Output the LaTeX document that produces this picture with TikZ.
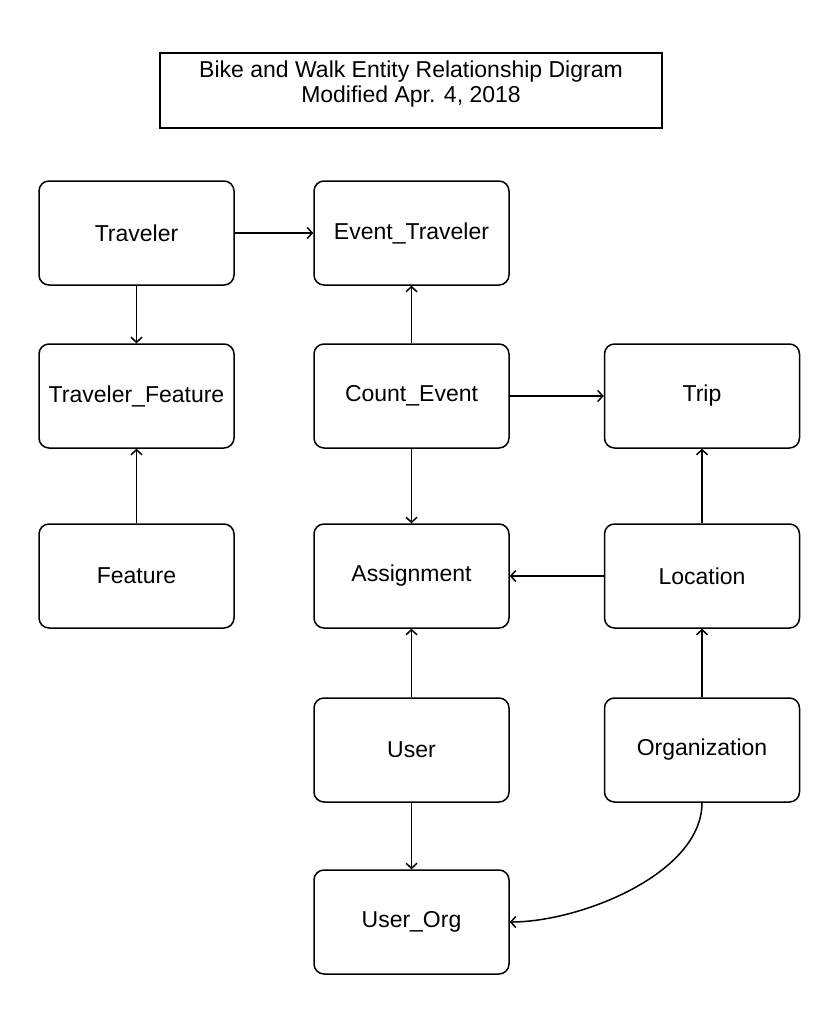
\documentclass[tikz,border=0pt]{standalone}
\usepackage{fontspec}
\setmainfont{Liberation Sans}
\usetikzlibrary{arrows.meta}
\begin{document}
\begin{tikzpicture}[x=1pt,y=-1pt,
  entity/.style={draw, line width=1.5pt, rounded corners=10pt, minimum width=195pt, minimum height=104pt, inner sep=0pt, font=\fontsize{23}{26}\selectfont},
  titlebox/.style={draw, line width=1.5pt, minimum width=502pt, minimum height=75pt, inner sep=0pt},
  titletext/.style={align=center, inner sep=0pt, font=\fontsize{23}{25}\selectfont},
  arr/.style={line width=1.5pt, -{Straight Barb[length=5pt,width=11pt,line width=1.5pt]}}]
\useasboundingbox (0,0) rectangle (839,1014);
\node[titlebox] (tb) at (411,90.5) {};
\node[titletext] (title) at (411,84) {Bike and Walk Entity Relationship Digram\\Modified Apr. 4, 2018};

\node[entity] (traveler) at (136.5,233) {Traveler};
\node[entity] (evtrav) at (411.5,233) {Event\_Traveler};
\node[entity] (travfeat) at (136.5,396) {Traveler\_Feature};
\node[entity] (count) at (411.5,396) {Count\_Event};
\node[entity] (trip) at (702,396) {Trip};
\node[entity] (feature) at (136.5,576) {Feature};
\node[entity] (assign) at (411.5,576) {Assignment};
\node[entity] (location) at (702,576) {Location};
\node[entity] (user) at (411.5,750) {User};
\node[entity] (org) at (702,750) {Organization};
\node[entity] (userorg) at (411.5,922) {User\_Org};

\draw[arr] (traveler) -- (evtrav);
\draw[arr] (traveler) -- (travfeat);
\draw[arr] (feature) -- (travfeat);
\draw[arr] (count) -- (evtrav);
\draw[arr] (count) -- (trip);
\draw[arr] (count) -- (assign);
\draw[arr] (location) -- (assign);
\draw[arr] (location) -- (trip);
\draw[arr] (user) -- (assign);
\draw[arr] (org) -- (location);
\draw[arr] (user) -- (userorg);
\draw[arr] (org.south) to[out=-90,in=0,looseness=0.8] (userorg.east);
\end{tikzpicture}
\end{document}
